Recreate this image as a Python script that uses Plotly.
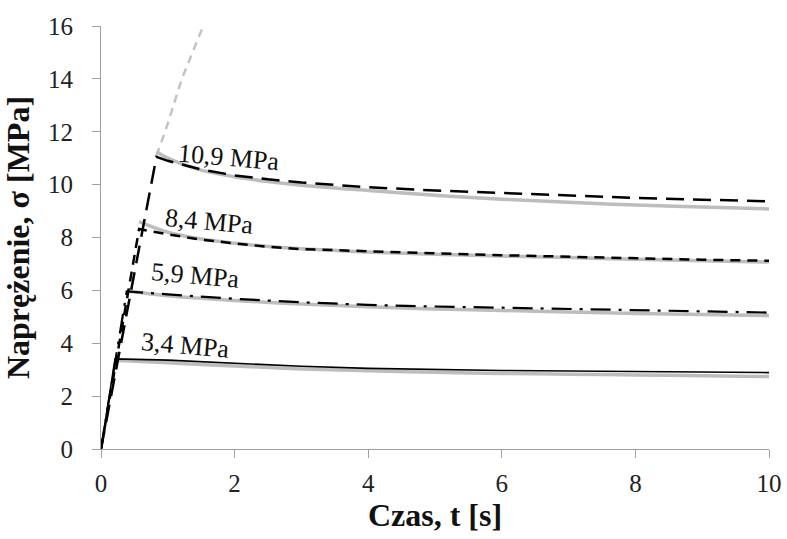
import plotly.graph_objects as go

# Stress relaxation tests: loading ramp followed by relaxation at constant strain
t_109 = [0, 0.83, 1.0, 1.5, 2, 2.5, 3, 4, 5, 6, 7, 8, 9, 10]
s_109 = [0, 11.05, 10.9, 10.57, 10.35, 10.2, 10.08, 9.9, 9.78, 9.68, 9.58, 9.5, 9.43, 9.37]
tm_109 = [0.83, 1.0, 1.5, 2, 2.5, 3, 4, 5, 6, 7, 8, 9, 10]
m_109 = [11.25, 11.0, 10.55, 10.3, 10.12, 9.98, 9.78, 9.6, 9.45, 9.33, 9.23, 9.15, 9.08]

t_84 = [0, 0.57, 1.0, 1.5, 2, 2.5, 3, 4, 5, 6, 7, 8, 9, 10]
s_84 = [0, 8.32, 8.12, 7.92, 7.78, 7.65, 7.56, 7.47, 7.40, 7.33, 7.27, 7.21, 7.16, 7.12]
tm_84 = [0.57, 1.0, 1.5, 2, 2.5, 3, 4, 5, 6, 7, 8, 9, 10]
m_84 = [8.6, 8.2, 7.94, 7.78, 7.66, 7.57, 7.45, 7.37, 7.30, 7.24, 7.18, 7.12, 7.07]

t_59 = [0, 0.385, 1, 1.5, 2, 3, 4, 5, 6, 7, 8, 9, 10]
s_59 = [0, 5.96, 5.85, 5.76, 5.68, 5.55, 5.45, 5.39, 5.34, 5.29, 5.25, 5.2, 5.16]
tm_59 = [0.385, 1, 1.5, 2, 3, 4, 5, 6, 7, 8, 9, 10]
m_59 = [5.98, 5.8, 5.7, 5.62, 5.48, 5.38, 5.3, 5.24, 5.18, 5.13, 5.09, 5.05]

t_34 = [0, 0.21, 1, 1.5, 2, 3, 4, 5, 6, 7, 8, 9, 10]
s_34 = [0, 3.41, 3.36, 3.30, 3.24, 3.13, 3.05, 3.0, 2.97, 2.95, 2.93, 2.91, 2.89]
tm_34 = [0.21, 1, 1.5, 2, 3, 4, 5, 6, 7, 8, 9, 10]
m_34 = [3.36, 3.26, 3.2, 3.14, 3.03, 2.96, 2.9, 2.86, 2.83, 2.8, 2.77, 2.74]

# Continuation of the model loading curve above the highest level
t_load = [0.83, 0.96, 1.21, 1.53]
s_load = [11.1, 12.0, 14.0, 16.0]

labels = ["10,9 MPa", "8,4 MPa", "5,9 MPa", "3,4 MPa"]
label_t = [1.92, 1.62, 1.42, 1.26]
label_s = [11.02, 8.6, 6.55, 3.9]

x_ticks = [0, 2, 4, 6, 8, 10]
y_ticks = [0, 2, 4, 6, 8, 10, 12, 14, 16]

SERIF = "Liberation Serif"
GRAY = "#bdbdbd"
fig = go.Figure()

fig.add_trace(go.Scatter(x=t_load, y=s_load, mode="lines",
                         line=dict(color="#c4c4c4", width=2.5, dash="8px,6px")))

for t, m in [(tm_109, m_109), (tm_84, m_84), (tm_59, m_59), (tm_34, m_34)]:
    fig.add_trace(go.Scatter(x=t, y=m, mode="lines", line_shape="spline",
                             line=dict(color=GRAY, width=3.5)))

styles = [
    (t_109, s_109, "18px,9px", 2.5),
    (t_84, s_84, "10px,7px", 2.5),
    (t_59, s_59, "20px,8px,3px,8px", 2.2),
    (t_34, s_34, "solid", 1.6),
]
for t, s, dash, w in styles:
    fig.add_trace(go.Scatter(x=t, y=s, mode="lines",
                             line=dict(color="black", width=w, dash=dash)))

for txt, x, y in zip(labels, label_t, label_s):
    fig.add_annotation(x=x, y=y, text=txt, showarrow=False, textangle=5,
                       font=dict(family=SERIF, size=26, color="#111"))

axis_common = dict(
    showgrid=False, zeroline=False, showline=True, linecolor="#a0a0a0", linewidth=1,
    ticks="outside", ticklen=8, tickcolor="#a0a0a0", tickwidth=1, automargin=False,
)

fig.update_layout(
    width=787, height=539,
    margin=dict(l=101, r=18, t=26, b=90),
    paper_bgcolor="white", plot_bgcolor="white",
    font=dict(family=SERIF, size=25, color="#222"),
    showlegend=False,
    xaxis=dict(range=[0, 10], tickvals=x_ticks, ticktext=[str(v) for v in x_ticks],
               tickfont=dict(family=SERIF, size=25, color="#222"), **axis_common,
               ticklabelstandoff=4,
               title=dict(text="<b>Czas, t [s]</b>", standoff=6,
                          font=dict(family=SERIF, size=32, color="#111"))),
    yaxis=dict(range=[0, 16], tickvals=y_ticks, ticktext=[str(v) for v in y_ticks],
               tickfont=dict(family=SERIF, size=25, color="#222"), **axis_common,
               ticklabelstandoff=14,
               title=dict(text="<b>Naprężenie, σ [MPa]</b>", standoff=10,
                          font=dict(family=SERIF, size=32, color="#111"))),
)

fig.write_html("out.html")
